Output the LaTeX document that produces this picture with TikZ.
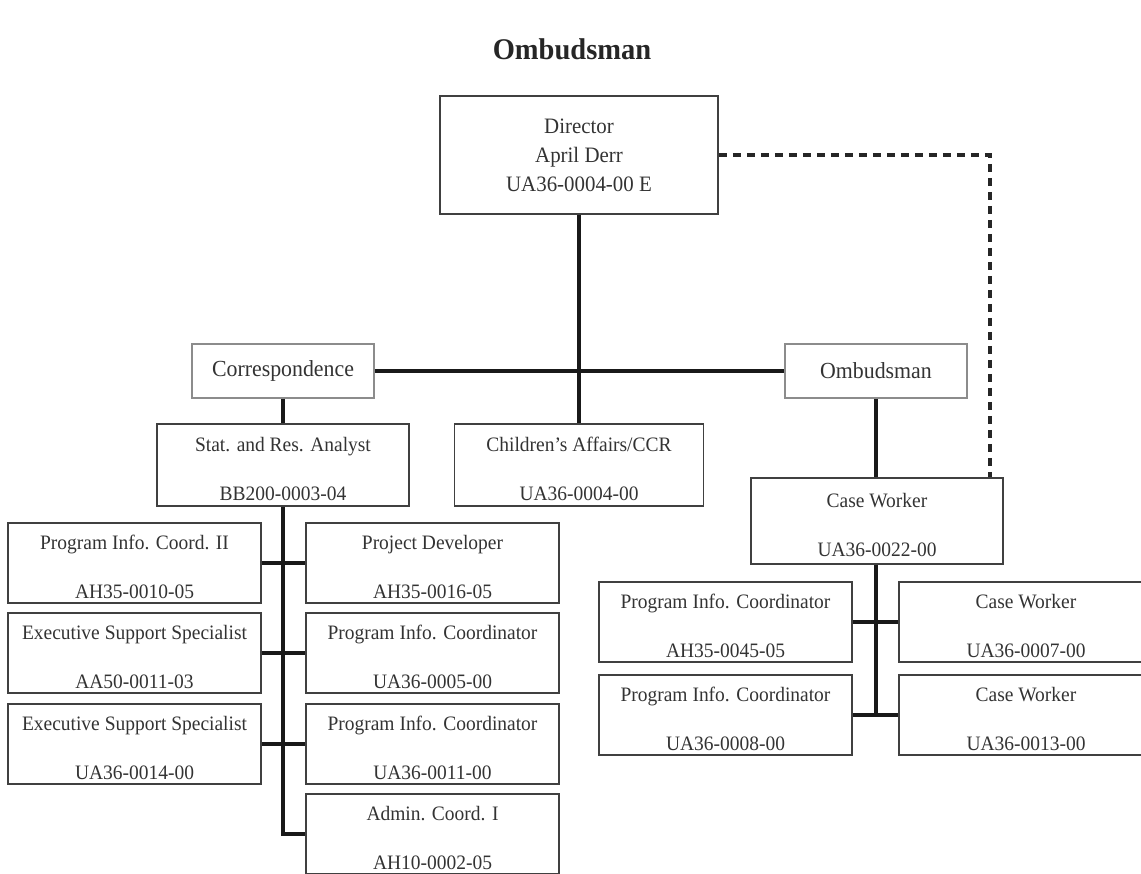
\documentclass[tikz,border=0pt]{standalone}
\usepackage{fontspec}
\setmainfont{Liberation Serif}[FakeStretch=0.95]
\newcommand\twoline[2]{\rule{0pt}{23pt}#1\\[26pt]#2}
\begin{document}
\begin{tikzpicture}[x=1pt,y=-1pt,
  box/.style={draw=black!75, line width=1.6pt, inner sep=0pt, align=center, text=black!80, font=\fontsize{20.5}{23}\selectfont},
  lbox/.style={draw=black!45, line width=1.4pt, inner sep=0pt, text=black!80, font=\fontsize{23}{26}\selectfont, minimum width=182pt, minimum height=54pt},
  rowbox/.style={box, minimum width=253pt, minimum height=80pt},
  conn/.style={line width=3.2pt, draw=black!90},
  dline/.style={line width=3.2pt, draw=black!85, dash pattern=on 8pt off 6pt}
]
\useasboundingbox (0,0) rectangle (1141,874);

\node[font=\fontsize{30}{34}\selectfont\bfseries, text=black!85] (title) at (572,49) {Ombudsman};

\node[box, minimum width=278pt, minimum height=118pt, font=\fontsize{22}{29}\selectfont] (dir) at (579,155) {Director\\April Derr\\UA36-0004-00 E};

\node[lbox] (corr) at (283,371) {Correspondence};
\node[lbox] (omb) at (876,371) {Ombudsman};

\node[box, minimum width=252pt, minimum height=82pt] (stat) at (283,465) {\twoline{Stat. and Res. Analyst}{BB200-0003-04}};
\node[box, minimum width=249pt, minimum height=82pt] (child) at (579,465) {\twoline{Children’s Affairs/CCR}{UA36-0004-00}};
\node[box, minimum width=252pt, minimum height=86pt] (cw) at (877,521) {\twoline{Case Worker}{UA36-0022-00}};

% left column
\node[rowbox] (l1) at (134.5,563) {\twoline{Program Info. Coord. II}{AH35-0010-05}};
\node[rowbox] (l2) at (134.5,653) {\twoline{Executive Support Specialist}{AA50-0011-03}};
\node[rowbox] (l3) at (134.5,744) {\twoline{Executive Support Specialist}{UA36-0014-00}};
% right column
\node[rowbox] (r1) at (432.5,563) {\twoline{Project Developer}{AH35-0016-05}};
\node[rowbox] (r2) at (432.5,653) {\twoline{Program Info. Coordinator}{UA36-0005-00}};
\node[rowbox] (r3) at (432.5,744) {\twoline{Program Info. Coordinator}{UA36-0011-00}};
\node[rowbox] (r4) at (432.5,834) {\twoline{Admin. Coord. I}{AH10-0002-05}};

% case worker subordinates
\node[rowbox] (s1l) at (725.5,622) {\twoline{Program Info. Coordinator}{AH35-0045-05}};
\node[rowbox] (s2l) at (725.5,715) {\twoline{Program Info. Coordinator}{UA36-0008-00}};
\node[rowbox, minimum width=254pt] (s1r) at (1026,622) {\twoline{Case Worker}{UA36-0007-00}};
\node[rowbox, minimum width=254pt] (s2r) at (1026,715) {\twoline{Case Worker}{UA36-0013-00}};

% connectors
\draw[conn] (dir.south) -- (child.north);
\draw[conn] (corr.east) -- (omb.west);
\draw[conn] (corr.south) -- (stat.north);
\draw[conn] (omb.south) -- (omb.south |- cw.north);
\draw[conn] (stat.south) |- (r4.west);
\draw[conn] (l1.east) -- (r1.west);
\draw[conn] (l2.east) -- (r2.west);
\draw[conn] (l3.east) -- (r3.west);
\draw[conn] (omb.south |- cw.south) -- (omb.south |- s2l.east);
\draw[conn] (s1l.east) -- (s1r.west);
\draw[conn] (s2l.east) -- (s2r.west);

\coordinate (dc) at (990,0);
\draw[dline] (dir.east) -| (dc |- cw.north);
\end{tikzpicture}
\end{document}
